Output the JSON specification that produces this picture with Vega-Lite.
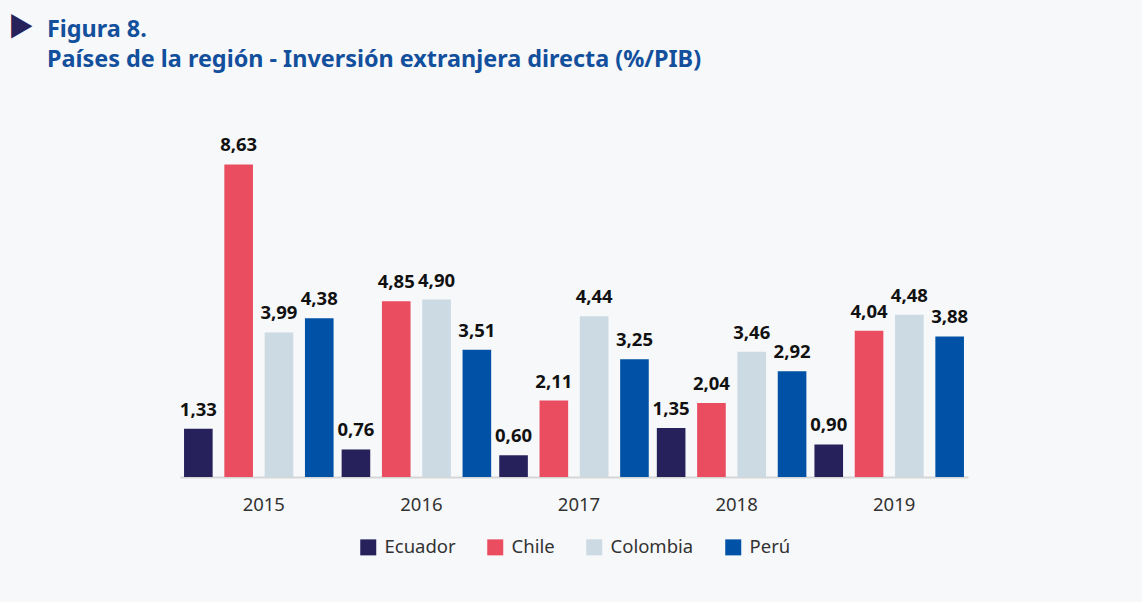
{
  "$schema": "https://vega.github.io/schema/vega-lite/v6.json",
  "autosize": "none",
  "padding": {"left": 180, "top": 151, "right": 174, "bottom": 125},
  "width": 788,
  "height": 326,
  "background": "#f7f8fa",
  "title": {
    "text": "▶",
    "color": "#27225a",
    "font": "Noto Sans CJK JP",
    "fontSize": 26,
    "fontWeight": "normal",
    "anchor": "start",
    "frame": "group",
    "dx": -172,
    "offset": 65,
    "subtitle": ["\u200b\u2003\u2002\u2009Figura 8.", "\u200b\u2003\u2002\u2009Países de la región - Inversión extranjera directa (%/PIB)"],
    "subtitleColor": "#124f9c",
    "subtitleFont": "Noto Sans",
    "subtitleFontSize": 23.4,
    "subtitleFontWeight": "bold",
    "subtitleLineHeight": 30,
    "subtitlePadding": -22
  },
  "data": {
    "values": [
      {"year": "2015", "country": "Ecuador", "value": 1.33},
      {"year": "2015", "country": "Chile", "value": 8.63},
      {"year": "2015", "country": "Colombia", "value": 3.99},
      {"year": "2015", "country": "Perú", "value": 4.38},
      {"year": "2016", "country": "Ecuador", "value": 0.76},
      {"year": "2016", "country": "Chile", "value": 4.85},
      {"year": "2016", "country": "Colombia", "value": 4.90},
      {"year": "2016", "country": "Perú", "value": 3.51},
      {"year": "2017", "country": "Ecuador", "value": 0.60},
      {"year": "2017", "country": "Chile", "value": 2.11},
      {"year": "2017", "country": "Colombia", "value": 4.44},
      {"year": "2017", "country": "Perú", "value": 3.25},
      {"year": "2018", "country": "Ecuador", "value": 1.35},
      {"year": "2018", "country": "Chile", "value": 2.04},
      {"year": "2018", "country": "Colombia", "value": 3.46},
      {"year": "2018", "country": "Perú", "value": 2.92},
      {"year": "2019", "country": "Ecuador", "value": 0.90},
      {"year": "2019", "country": "Chile", "value": 4.04},
      {"year": "2019", "country": "Colombia", "value": 4.48},
      {"year": "2019", "country": "Perú", "value": 3.88}
    ]
  },
  "encoding": {
    "x": {
      "field": "year",
      "type": "nominal",
      "scale": {"paddingInner": 0, "paddingOuter": 0},
      "axis": {
        "title": null,
        "labelAngle": 0,
        "ticks": false,
        "domainColor": "#d6d6d6",
        "domainWidth": 2,
        "labelColor": "#333333",
        "labelFont": "Noto Sans",
        "labelFontSize": 18.5,
        "labelPadding": 18,
        "labelOffset": 5
      }
    },
    "xOffset": {
      "field": "country",
      "type": "nominal",
      "sort": ["Ecuador", "Chile", "Colombia", "Perú"],
      "scale": {"paddingInner": 0.29, "paddingOuter": 0.1}
    },
    "y": {
      "field": "value",
      "type": "quantitative",
      "scale": {"domain": [0, 9], "nice": false},
      "axis": null
    }
  },
  "layer": [
    {
      "mark": {"type": "bar"},
      "encoding": {
        "color": {
          "field": "country",
          "type": "nominal",
          "scale": {
            "domain": ["Ecuador", "Chile", "Colombia", "Perú"],
            "range": ["#26215b", "#ea4c60", "#ccdae4", "#0152a6"]
          },
          "legend": {
            "title": null,
            "orient": "none",
            "legendX": 179,
            "legendY": 387,
            "direction": "horizontal",
            "symbolType": "square",
            "symbolSize": 256,
            "symbolStrokeWidth": 0,
            "labelFont": "Noto Sans",
            "labelFontSize": 18.5,
            "labelColor": "#333333",
            "columnPadding": 30,
            "labelOffset": 7
          }
        }
      }
    },
    {
      "mark": {"type": "text", "baseline": "alphabetic", "dy": -13, "font": "Noto Sans", "fontWeight": "bold", "fontSize": 18.5, "color": "#111111"},
      "encoding": {
        "text": {"field": "value", "type": "quantitative", "format": ".2f"}
      }
    }
  ],
  "config": {
    "view": {"stroke": null},
    "locale": {"number": {"decimal": ",", "thousands": ".", "grouping": [3], "currency": ["", " €"]}}
  }
}
